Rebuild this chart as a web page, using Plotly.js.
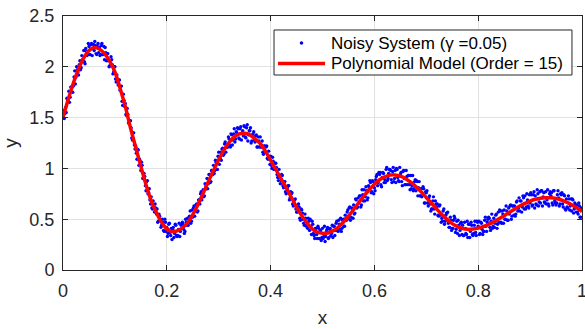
<!DOCTYPE html>
<html>
<head>
<meta charset="utf-8">
<script src="https://cdn.plot.ly/plotly-3.0.1.min.js"></script>
<style>html,body{margin:0;padding:0;background:#fff;}#chart{width:585px;height:329px;}</style>
</head>
<body>
<div id="chart"></div>
<script>
// Noisy samples, first pass (x step 0.0025)
const xNoisyA = [
0,0.0025,0.005,0.0075, 0.01,0.0125,0.015,0.0175, 0.02,0.0225,0.025,0.0275, 0.03,0.0325,0.035,0.0375,
0.04,0.0425,0.045,0.0475, 0.05,0.0525,0.055,0.0575, 0.06,0.0625,0.065,0.0675, 0.07,0.0725,0.075,0.0775,
0.08,0.0825,0.085,0.0875, 0.09,0.0925,0.095,0.0975, 0.10,0.1025,0.105,0.1075, 0.11,0.1125,0.115,0.1175,
0.12,0.1225,0.125,0.1275, 0.13,0.1325,0.135,0.1375, 0.14,0.1425,0.145,0.1475, 0.15,0.1525,0.155,0.1575,
0.16,0.1625,0.165,0.1675, 0.17,0.1725,0.175,0.1775, 0.18,0.1825,0.185,0.1875, 0.19,0.1925,0.195,0.1975,
0.20,0.2025,0.205,0.2075, 0.21,0.2125,0.215,0.2175, 0.22,0.2225,0.225,0.2275, 0.23,0.2325,0.235,0.2375,
0.24,0.2425,0.245,0.2475, 0.25,0.2525,0.255,0.2575, 0.26,0.2625,0.265,0.2675, 0.27,0.2725,0.275,0.2775,
0.28,0.2825,0.285,0.2875, 0.29,0.2925,0.295,0.2975, 0.30,0.3025,0.305,0.3075, 0.31,0.3125,0.315,0.3175,
0.32,0.3225,0.325,0.3275, 0.33,0.3325,0.335,0.3375, 0.34,0.3425,0.345,0.3475, 0.35,0.3525,0.355,0.3575,
0.36,0.3625,0.365,0.3675, 0.37,0.3725,0.375,0.3775, 0.38,0.3825,0.385,0.3875, 0.39,0.3925,0.395,0.3975,
0.40,0.4025,0.405,0.4075, 0.41,0.4125,0.415,0.4175, 0.42,0.4225,0.425,0.4275, 0.43,0.4325,0.435,0.4375,
0.44,0.4425,0.445,0.4475, 0.45,0.4525,0.455,0.4575, 0.46,0.4625,0.465,0.4675, 0.47,0.4725,0.475,0.4775,
0.48,0.4825,0.485,0.4875, 0.49,0.4925,0.495,0.4975, 0.50,0.5025,0.505,0.5075, 0.51,0.5125,0.515,0.5175,
0.52,0.5225,0.525,0.5275, 0.53,0.5325,0.535,0.5375, 0.54,0.5425,0.545,0.5475, 0.55,0.5525,0.555,0.5575,
0.56,0.5625,0.565,0.5675, 0.57,0.5725,0.575,0.5775, 0.58,0.5825,0.585,0.5875, 0.59,0.5925,0.595,0.5975,
0.60,0.6025,0.605,0.6075, 0.61,0.6125,0.615,0.6175, 0.62,0.6225,0.625,0.6275, 0.63,0.6325,0.635,0.6375,
0.64,0.6425,0.645,0.6475, 0.65,0.6525,0.655,0.6575, 0.66,0.6625,0.665,0.6675, 0.67,0.6725,0.675,0.6775,
0.68,0.6825,0.685,0.6875, 0.69,0.6925,0.695,0.6975, 0.70,0.7025,0.705,0.7075, 0.71,0.7125,0.715,0.7175,
0.72,0.7225,0.725,0.7275, 0.73,0.7325,0.735,0.7375, 0.74,0.7425,0.745,0.7475, 0.75,0.7525,0.755,0.7575,
0.76,0.7625,0.765,0.7675, 0.77,0.7725,0.775,0.7775, 0.78,0.7825,0.785,0.7875, 0.79,0.7925,0.795,0.7975,
0.80,0.8025,0.805,0.8075, 0.81,0.8125,0.815,0.8175, 0.82,0.8225,0.825,0.8275, 0.83,0.8325,0.835,0.8375,
0.84,0.8425,0.845,0.8475, 0.85,0.8525,0.855,0.8575, 0.86,0.8625,0.865,0.8675, 0.87,0.8725,0.875,0.8775,
0.88,0.8825,0.885,0.8875, 0.89,0.8925,0.895,0.8975, 0.90,0.9025,0.905,0.9075, 0.91,0.9125,0.915,0.9175,
0.92,0.9225,0.925,0.9275, 0.93,0.9325,0.935,0.9375, 0.94,0.9425,0.945,0.9475, 0.95,0.9525,0.955,0.9575,
0.96,0.9625,0.965,0.9675, 0.97,0.9725,0.975,0.9775, 0.98,0.9825,0.985,0.9875, 0.99,0.9925,0.995,0.9975,
1.00
];
const yNoisyA = [
1.53,1.49,1.60,1.69, 1.66,1.65,1.80,1.80, 1.81,1.96,1.90,1.97, 1.92,2.06,1.99,2.07,
2.16,2.03,2.15,2.12, 2.20,2.12,2.23,2.18, 2.16,2.21,2.12,2.23, 2.19,2.12,2.23,2.12,
2.07,2.14,2.13,2.06, 2.01,2.10,2.02,1.95, 2.00,1.85,1.87,1.87, 1.77,1.81,1.62,1.67,
1.64,1.52,1.53,1.44, 1.47,1.30,1.35,1.23, 1.22,1.09,1.18,1.09, 0.98,1.03,0.91,0.92,
0.78,0.88,0.76,0.69, 0.72,0.60,0.63,0.65, 0.55,0.47,0.55,0.49, 0.44,0.47,0.38,0.47,
0.42,0.36,0.46,0.34, 0.30,0.42,0.36,0.44, 0.33,0.40,0.33,0.44, 0.47,0.40,0.38,0.47,
0.51,0.47,0.58,0.48, 0.52,0.63,0.59,0.65, 0.58,0.69,0.75,0.69, 0.79,0.73,0.82,0.90,
0.85,0.94,0.87,0.97, 1.03,0.98,1.06,0.99, 1.16,1.10,1.08,1.20, 1.14,1.26,1.23,1.21,
1.29,1.21,1.33,1.28, 1.39,1.29,1.35,1.39, 1.29,1.41,1.35,1.32, 1.41,1.30,1.43,1.33,
1.37,1.25,1.33,1.36, 1.26,1.33,1.21,1.27, 1.31,1.21,1.16,1.22, 1.16,1.22,1.09,1.12,
1.12,1.00,1.07,0.99, 1.05,0.94,0.88,0.93, 0.88,0.93,0.81,0.87, 0.75,0.81,0.83,0.71,
0.75,0.65,0.66,0.70, 0.57,0.62,0.62,0.49, 0.59,0.50,0.44,0.51, 0.44,0.51,0.39,0.43,
0.48,0.36,0.31,0.41, 0.31,0.41,0.38,0.29, 0.41,0.33,0.28,0.38, 0.42,0.32,0.41,0.36,
0.32,0.43,0.39,0.48, 0.38,0.45,0.51,0.41, 0.50,0.43,0.51,0.57, 0.51,0.62,0.52,0.60,
0.64,0.56,0.69,0.62, 0.66,0.73,0.64,0.74, 0.79,0.72,0.78,0.71, 0.81,0.86,0.77,0.87,
0.81,0.89,0.94,0.86, 0.94,0.84,0.91,0.95, 0.89,0.99,0.88,0.95, 0.99,0.89,0.97,0.87,
0.98,1.00,0.91,0.87, 0.94,0.87,0.97,0.90, 0.84,0.92,0.93,0.84, 0.93,0.83,0.78,0.87,
0.78,0.87,0.81,0.73, 0.80,0.73,0.80,0.66, 0.76,0.66,0.71,0.65, 0.60,0.68,0.60,0.68,
0.62,0.54,0.63,0.54, 0.51,0.58,0.45,0.54, 0.56,0.46,0.42,0.49, 0.41,0.49,0.51,0.40,
0.36,0.44,0.39,0.47, 0.44,0.34,0.41,0.35, 0.32,0.45,0.38,0.44, 0.34,0.44,0.37,0.48,
0.43,0.35,0.47,0.40, 0.38,0.49,0.43,0.47, 0.52,0.42,0.48,0.41, 0.51,0.46,0.55,0.45,
0.47,0.58,0.46,0.55, 0.59,0.50,0.58,0.49, 0.55,0.64,0.53,0.63, 0.63,0.55,0.68,0.61,
0.58,0.68,0.62,0.71, 0.73,0.62,0.69,0.61, 0.66,0.74,0.64,0.77, 0.73,0.64,0.75,0.67,
0.66,0.78,0.72,0.67, 0.77,0.69,0.65,0.75, 0.73,0.66,0.78,0.68, 0.64,0.74,0.71,0.65,
0.74,0.65,0.74,0.60, 0.70,0.61,0.70,0.63, 0.58,0.69,0.60,0.64, 0.64,0.55,0.63,0.52,
0.60
];
// Noisy samples, second pass (in between the first)
const xNoisyB = [
0.00125,0.00375,0.00625,0.00875, 0.01125,0.01375,0.01625,0.01875, 0.02125,0.02375,0.02625,0.02875, 0.03125,0.03375,0.03625,0.03875,
0.04125,0.04375,0.04625,0.04875, 0.05125,0.05375,0.05625,0.05875, 0.06125,0.06375,0.06625,0.06875, 0.07125,0.07375,0.07625,0.07875,
0.08125,0.08375,0.08625,0.08875, 0.09125,0.09375,0.09625,0.09875, 0.10125,0.10375,0.10625,0.10875, 0.11125,0.11375,0.11625,0.11875,
0.12125,0.12375,0.12625,0.12875, 0.13125,0.13375,0.13625,0.13875, 0.14125,0.14375,0.14625,0.14875, 0.15125,0.15375,0.15625,0.15875,
0.16125,0.16375,0.16625,0.16875, 0.17125,0.17375,0.17625,0.17875, 0.18125,0.18375,0.18625,0.18875, 0.19125,0.19375,0.19625,0.19875,
0.20125,0.20375,0.20625,0.20875, 0.21125,0.21375,0.21625,0.21875, 0.22125,0.22375,0.22625,0.22875, 0.23125,0.23375,0.23625,0.23875,
0.24125,0.24375,0.24625,0.24875, 0.25125,0.25375,0.25625,0.25875, 0.26125,0.26375,0.26625,0.26875, 0.27125,0.27375,0.27625,0.27875,
0.28125,0.28375,0.28625,0.28875, 0.29125,0.29375,0.29625,0.29875, 0.30125,0.30375,0.30625,0.30875, 0.31125,0.31375,0.31625,0.31875,
0.32125,0.32375,0.32625,0.32875, 0.33125,0.33375,0.33625,0.33875, 0.34125,0.34375,0.34625,0.34875, 0.35125,0.35375,0.35625,0.35875,
0.36125,0.36375,0.36625,0.36875, 0.37125,0.37375,0.37625,0.37875, 0.38125,0.38375,0.38625,0.38875, 0.39125,0.39375,0.39625,0.39875,
0.40125,0.40375,0.40625,0.40875, 0.41125,0.41375,0.41625,0.41875, 0.42125,0.42375,0.42625,0.42875, 0.43125,0.43375,0.43625,0.43875,
0.44125,0.44375,0.44625,0.44875, 0.45125,0.45375,0.45625,0.45875, 0.46125,0.46375,0.46625,0.46875, 0.47125,0.47375,0.47625,0.47875,
0.48125,0.48375,0.48625,0.48875, 0.49125,0.49375,0.49625,0.49875, 0.50125,0.50375,0.50625,0.50875, 0.51125,0.51375,0.51625,0.51875,
0.52125,0.52375,0.52625,0.52875, 0.53125,0.53375,0.53625,0.53875, 0.54125,0.54375,0.54625,0.54875, 0.55125,0.55375,0.55625,0.55875,
0.56125,0.56375,0.56625,0.56875, 0.57125,0.57375,0.57625,0.57875, 0.58125,0.58375,0.58625,0.58875, 0.59125,0.59375,0.59625,0.59875,
0.60125,0.60375,0.60625,0.60875, 0.61125,0.61375,0.61625,0.61875, 0.62125,0.62375,0.62625,0.62875, 0.63125,0.63375,0.63625,0.63875,
0.64125,0.64375,0.64625,0.64875, 0.65125,0.65375,0.65625,0.65875, 0.66125,0.66375,0.66625,0.66875, 0.67125,0.67375,0.67625,0.67875,
0.68125,0.68375,0.68625,0.68875, 0.69125,0.69375,0.69625,0.69875, 0.70125,0.70375,0.70625,0.70875, 0.71125,0.71375,0.71625,0.71875,
0.72125,0.72375,0.72625,0.72875, 0.73125,0.73375,0.73625,0.73875, 0.74125,0.74375,0.74625,0.74875, 0.75125,0.75375,0.75625,0.75875,
0.76125,0.76375,0.76625,0.76875, 0.77125,0.77375,0.77625,0.77875, 0.78125,0.78375,0.78625,0.78875, 0.79125,0.79375,0.79625,0.79875,
0.80125,0.80375,0.80625,0.80875, 0.81125,0.81375,0.81625,0.81875, 0.82125,0.82375,0.82625,0.82875, 0.83125,0.83375,0.83625,0.83875,
0.84125,0.84375,0.84625,0.84875, 0.85125,0.85375,0.85625,0.85875, 0.86125,0.86375,0.86625,0.86875, 0.87125,0.87375,0.87625,0.87875,
0.88125,0.88375,0.88625,0.88875, 0.89125,0.89375,0.89625,0.89875, 0.90125,0.90375,0.90625,0.90875, 0.91125,0.91375,0.91625,0.91875,
0.92125,0.92375,0.92625,0.92875, 0.93125,0.93375,0.93625,0.93875, 0.94125,0.94375,0.94625,0.94875, 0.95125,0.95375,0.95625,0.95875,
0.96125,0.96375,0.96625,0.96875, 0.97125,0.97375,0.97625,0.97875, 0.98125,0.98375,0.98625,0.98875, 0.99125,0.99375,0.99625,0.99875
];
const yNoisyB = [
1.57,1.54,1.55,1.68, 1.76,1.70,1.80,1.75, 1.90,1.83,2.00,1.95, 2.02,1.97,2.11,2.05,
2.05,2.18,2.11,2.23, 2.12,2.22,2.11,2.22, 2.25,2.13,2.20,2.14, 2.11,2.21,2.12,2.20,
2.19,2.06,2.13,2.00, 2.01,2.07,1.93,2.00, 1.88,1.92,1.82,1.87, 1.81,1.66,1.73,1.61,
1.53,1.59,1.45,1.47, 1.40,1.28,1.35,1.19, 1.15,1.19,1.03,1.07, 1.06,0.90,0.95,0.83,
0.87,0.75,0.80,0.65, 0.61,0.68,0.57,0.61, 0.60,0.48,0.53,0.42, 0.50,0.39,0.50,0.38,
0.33,0.45,0.37,0.41, 0.40,0.32,0.45,0.34, 0.34,0.46,0.38,0.45, 0.45,0.36,0.50,0.44,
0.44,0.53,0.46,0.59, 0.61,0.53,0.64,0.57, 0.69,0.65,0.77,0.72, 0.72,0.85,0.80,0.80,
0.94,0.86,0.98,0.94, 0.95,1.08,0.99,1.12, 1.04,1.16,1.19,1.13, 1.24,1.16,1.21,1.31,
1.23,1.34,1.23,1.34, 1.26,1.36,1.40,1.30, 1.39,1.28,1.37,1.42, 1.31,1.40,1.27,1.37,
1.40,1.27,1.34,1.28, 1.32,1.21,1.31,1.21, 1.21,1.27,1.14,1.22, 1.21,1.10,1.17,1.04,
1.03,1.11,0.99,1.05, 1.01,0.91,0.99,0.85, 0.94,0.83,0.87,0.77, 0.76,0.83,0.69,0.77,
0.76,0.63,0.69,0.60, 0.57,0.65,0.51,0.60, 0.56,0.46,0.55,0.43, 0.41,0.48,0.50,0.35,
0.45,0.34,0.41,0.35, 0.43,0.31,0.39,0.32, 0.31,0.43,0.33,0.40, 0.31,0.40,0.34,0.44,
0.43,0.34,0.46,0.39, 0.49,0.40,0.38,0.49, 0.43,0.54,0.49,0.59, 0.61,0.49,0.61,0.51,
0.55,0.70,0.61,0.71, 0.73,0.62,0.79,0.68, 0.68,0.82,0.69,0.83, 0.88,0.76,0.88,0.75,
0.78,0.92,0.83,0.96, 0.96,0.82,0.96,0.86, 0.86,1.01,0.90,0.99, 0.98,0.86,1.01,0.90,
0.86,0.99,0.88,1.01, 0.96,0.83,0.98,0.84, 0.98,0.84,0.93,0.79, 0.80,0.93,0.80,0.89,
0.88,0.73,0.87,0.73, 0.72,0.82,0.66,0.77, 0.78,0.63,0.73,0.58, 0.60,0.72,0.55,0.65,
0.65,0.53,0.64,0.47, 0.48,0.60,0.48,0.56, 0.57,0.42,0.52,0.39, 0.41,0.53,0.37,0.48,
0.49,0.34,0.46,0.35, 0.34,0.47,0.36,0.48, 0.45,0.32,0.47,0.35, 0.36,0.48,0.34,0.47,
0.48,0.36,0.46,0.35, 0.38,0.52,0.38,0.50, 0.51,0.39,0.55,0.43, 0.42,0.54,0.41,0.57,
0.59,0.47,0.58,0.46, 0.50,0.63,0.49,0.61, 0.63,0.50,0.63,0.54, 0.53,0.67,0.58,0.71,
0.68,0.57,0.73,0.60, 0.60,0.75,0.63,0.74, 0.76,0.63,0.74,0.61, 0.65,0.79,0.63,0.77,
0.78,0.63,0.76,0.66, 0.65,0.79,0.63,0.77, 0.76,0.64,0.78,0.66, 0.66,0.78,0.63,0.75,
0.76,0.62,0.73,0.59, 0.62,0.73,0.59,0.70, 0.70,0.56,0.66,0.57, 0.57,0.66,0.52,0.61
];
const xModel = [
0,0.01,0.02,0.03,0.04,0.05,0.06,0.07,0.08,0.09,
0.10,0.11,0.12,0.13,0.14,0.15,0.16,0.17,0.18,0.19,
0.20,0.21,0.22,0.23,0.24,0.25,0.26,0.27,0.28,0.29,
0.30,0.31,0.32,0.33,0.34,0.35,0.36,0.37,0.38,0.39,
0.40,0.41,0.42,0.43,0.44,0.45,0.46,0.47,0.48,0.49,
0.50,0.51,0.52,0.53,0.54,0.55,0.56,0.57,0.58,0.59,
0.60,0.61,0.62,0.63,0.64,0.65,0.66,0.67,0.68,0.69,
0.70,0.71,0.72,0.73,0.74,0.75,0.76,0.77,0.78,0.79,
0.80,0.81,0.82,0.83,0.84,0.85,0.86,0.87,0.88,0.89,
0.90,0.91,0.92,0.93,0.94,0.95,0.96,0.97,0.98,0.99,
1.00
];
const yModel = [
1.500,1.677,1.840,1.980,2.088,2.159,2.189,2.175,2.130,2.055,
1.950,1.790,1.610,1.400,1.210,1.020,0.840,0.680,0.565,0.470,
0.405,0.378,0.385,0.415,0.465,0.545,0.645,0.755,0.870,0.980,
1.085,1.180,1.255,1.310,1.340,1.345,1.330,1.290,1.245,1.170,
1.080,0.990,0.900,0.810,0.715,0.620,0.535,0.465,0.405,0.372,
0.361,0.364,0.385,0.420,0.470,0.530,0.595,0.665,0.730,0.790,
0.845,0.888,0.918,0.934,0.936,0.923,0.899,0.864,0.821,0.770,
0.714,0.657,0.600,0.546,0.498,0.457,0.427,0.408,0.400,0.403,
0.412,0.428,0.449,0.474,0.504,0.535,0.567,0.599,0.629,0.656,
0.679,0.696,0.707,0.712,0.711,0.704,0.689,0.668,0.643,0.612,
0.576
];
const xTickVals = [0, 0.2, 0.4, 0.6, 0.8, 1];
const xTickText = ['0', '0.2', '0.4', '0.6', '0.8', '1'];
const yTickVals = [0, 0.5, 1, 1.5, 2, 2.5];
const yTickText = ['0', '0.5', '1', '1.5', '2', '2.5'];
const legendLabels = ['Noisy System (\u03b3 =0.05)', 'Polynomial Model (Order = 15)'];

const FONT = '"Liberation Sans", Arial, Helvetica, sans-serif';
const AX = '#262626';
const BLUE = '#0000ff';
const RED = '#ff0000';

const traces = [
  {
    x: xNoisyA.concat(xNoisyB), y: yNoisyA.concat(yNoisyB),
    type: 'scatter', mode: 'markers', name: legendLabels[0],
    marker: {color: BLUE, size: 3.4, line: {width: 0}}
  },
  {
    x: xModel, y: yModel, type: 'scatter', mode: 'lines', name: legendLabels[1],
    line: {color: RED, width: 3.5, shape: 'spline', smoothing: 1}
  }
];

const axisCommon = {
  ticks: 'inside', ticklen: 5, tickwidth: 1, tickcolor: AX,
  showline: true, linecolor: AX, linewidth: 1, mirror: 'ticks',
  showgrid: true, gridcolor: '#e1e1e1', gridwidth: 1,
  zeroline: false, automargin: false,
  tickfont: {family: FONT, size: 18, color: AX}
};

// Legend box drawn in paper coordinates (MATLAB-style compact legend)
const lg = {x0: 0.4066, x1: 0.9807, y0: 0.7677, y1: 0.9449,
            row1: 0.8937, row2: 0.8130, symX0: 0.4143, symX1: 0.5048, textX: 0.5125};

const layout = {
  width: 585, height: 329,
  margin: {l: 63, r: 3, t: 16, b: 59, pad: 0},
  paper_bgcolor: '#ffffff', plot_bgcolor: '#ffffff',
  font: {family: FONT, color: AX},
  showlegend: false,
  xaxis: Object.assign({}, axisCommon, {
    range: [0, 1], tickmode: 'array', tickvals: xTickVals, ticktext: xTickText,
    ticklabelstandoff: 4, ticklabeloverflow: 'allow',
    title: {text: 'x', font: {family: FONT, size: 19, color: AX}, standoff: 11}
  }),
  yaxis: Object.assign({}, axisCommon, {
    range: [0, 2.5], tickmode: 'array', tickvals: yTickVals, ticktext: yTickText,
    ticklabelstandoff: 4,
    title: {text: 'y', font: {family: FONT, size: 19, color: AX}, standoff: 10}
  }),
  shapes: [
    {type: 'rect', xref: 'paper', yref: 'paper', x0: lg.x0, x1: lg.x1, y0: lg.y0, y1: lg.y1,
     fillcolor: '#ffffff', line: {color: AX, width: 1}, layer: 'above'},
    {type: 'circle', xref: 'paper', yref: 'paper', xsizemode: 'pixel', ysizemode: 'pixel',
     xanchor: (lg.symX0 + lg.symX1) / 2, yanchor: lg.row1, x0: -1.8, x1: 1.8, y0: -1.8, y1: 1.8,
     fillcolor: BLUE, line: {width: 0}, layer: 'above'},
    {type: 'line', xref: 'paper', yref: 'paper', x0: lg.symX0, x1: lg.symX1, y0: lg.row2, y1: lg.row2,
     line: {color: RED, width: 3.5}, layer: 'above'}
  ],
  annotations: [
    {xref: 'paper', yref: 'paper', x: lg.textX, y: lg.row1, xanchor: 'left', yanchor: 'middle',
     text: legendLabels[0], showarrow: false, font: {family: FONT, size: 17, color: '#000000'}},
    {xref: 'paper', yref: 'paper', x: lg.textX, y: lg.row2, xanchor: 'left', yanchor: 'middle',
     text: legendLabels[1], showarrow: false, font: {family: FONT, size: 17, color: '#000000'}}
  ]
};

Plotly.newPlot('chart', traces, layout, {staticPlot: true, displayModeBar: false});
</script>
</body>
</html>
